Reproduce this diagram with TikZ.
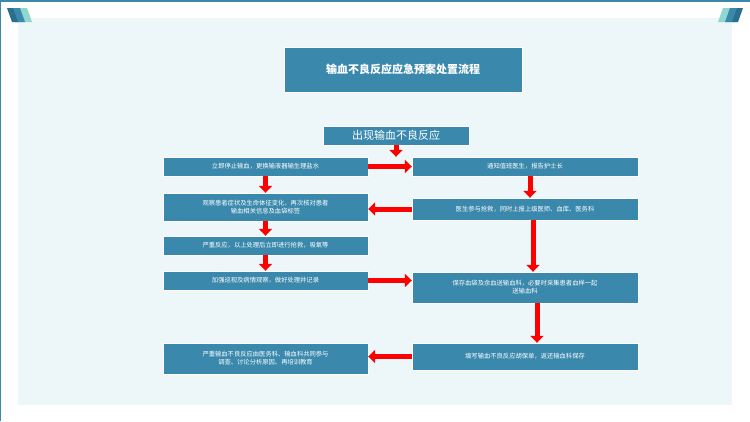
\documentclass[tikz,border=0pt]{standalone}
\usepackage{fontspec}
\setmainfont{Noto Sans CJK SC}
\usetikzlibrary{arrows.meta}
\definecolor{boxc}{HTML}{3A89AD}
\definecolor{panel}{HTML}{EDF6F8}
\definecolor{dk}{HTML}{2A6F8C}
\definecolor{lt}{HTML}{8FD8CF}
\tikzset{
  bx/.style={fill=boxc,draw=white,line width=0.4pt,text=white,font=\fontsize{6.3}{8}\selectfont,align=center,inner sep=1pt},
  ar/.style={draw=red,line width=5pt,-{Triangle[length=7pt,width=13pt]}},
}
\begin{document}
\begin{tikzpicture}[x=1pt,y=-1pt]
\useasboundingbox (0,0) rectangle (750,421);
\fill[white] (0,0) rectangle (750,421);
\draw[boxc,line width=2pt] (0,1) -- (750,1);
\draw[boxc,line width=1pt] (0.5,0) -- (0.5,421);
\fill[panel] (18,18) rectangle (732,405);
% decorations
\fill[lt] (13,8) -- (27,8) -- (32,22) -- (18,22) -- cycle;
\fill[boxc] (10,8) -- (20,8) -- (25,22) -- (15,22) -- cycle;
\fill[dk] (7,8) -- (13,8) -- (18,22) -- (12,22) -- cycle;
\fill[lt] (737,8) -- (723,8) -- (718,22) -- (732,22) -- cycle;
\fill[boxc] (740,8) -- (730,8) -- (725,22) -- (735,22) -- cycle;
\fill[dk] (743,8) -- (737,8) -- (732,22) -- (738,22) -- cycle;
% title
\node[bx,minimum width=238pt,minimum height=45pt,font=\bfseries\fontsize{11}{13}\selectfont] (t) at (403,69.5) {输血不良反应应急预案处置流程};
\node[bx,minimum width=146pt,minimum height=19pt,font=\fontsize{11}{13}\selectfont] (s) at (396,135.5) {出现输血不良反应};
\node[bx,minimum width=205pt,minimum height=19pt] (l1) at (265.5,166.5) {立即停止输血，更换输液器输生理盐水};
\node[bx,minimum width=205pt,minimum height=28pt] (l2) at (265.5,207) {观察患者症状及生命体征变化，再次核对患者\\输血相关信息及血袋标签};
\node[bx,minimum width=205pt,minimum height=19pt] (l3) at (265.5,245.5) {严重反应，以上处理后立即进行抢救，吸氧等};
\node[bx,minimum width=205pt,minimum height=19pt] (l4) at (265.5,280.5) {加强巡视及病情观察，做好处理并记录};
\node[bx,minimum width=205pt,minimum height=31pt] (l5) at (265.5,358.5) {严重输血不良反应由医务科、输血科共同参与\\调查、讨论分析原因、再培训教育};
\node[bx,minimum width=226pt,minimum height=19pt] (r1) at (525,166.5) {通知值班医生，报告护士长};
\node[bx,minimum width=226pt,minimum height=22pt] (r2) at (525,209) {医生参与抢救，同时上报上级医师、血库、医务科};
\node[bx,minimum width=226pt,minimum height=31pt] (r3) at (525,287.5) {保存血袋及余血送输血科，必要时采集患者血样一起\\送输血科};
\node[bx,minimum width=226pt,minimum height=27pt] (r4) at (525,356.5) {填写输血不良反应胡保单，返还输血科保存};
% arrows
\draw[ar] (s.south) -- (s.south |- l1.north);
\draw[ar] (l1.south) -- (l2.north);
\draw[ar] (l2.south) -- (l3.north);
\draw[ar] (l3.south) -- (l4.north);
\draw[ar] (l1.east) -- (r1.west);
\draw[ar] (r2.west) -- (l2.east |- r2.west);
\draw[ar] (l4.east) -- (r3.west |- l4.east);
\draw[ar] (r4.west) -- (l5.east |- r4.west);
\coordinate (a1) at (530,0);
\draw[ar] (a1 |- r1.south) -- (a1 |- r2.north);
\coordinate (a2) at (533,0);
\draw[ar] (a2 |- r2.south) -- (a2 |- r3.north);
\coordinate (a3) at (537,0);
\draw[ar] (a3 |- r3.south) -- (a3 |- r4.north);
\end{tikzpicture}
\end{document}
